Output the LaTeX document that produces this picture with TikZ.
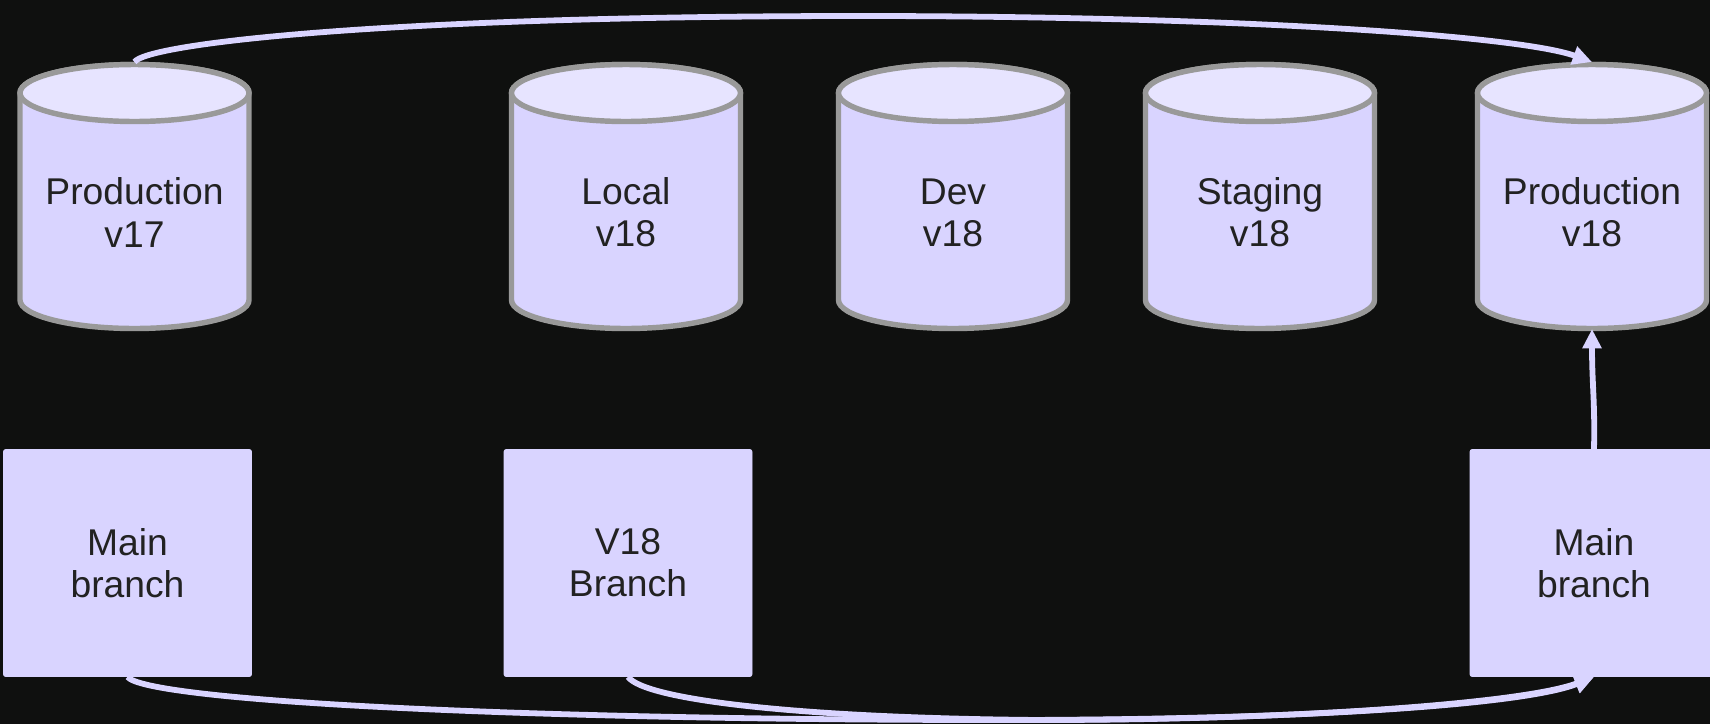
\documentclass[tikz,border=0pt]{standalone}
\usepackage{fontspec}
\setmainfont{Liberation Sans}
\usepackage{tikz}
\usetikzlibrary{arrows.meta}
\definecolor{bgdark}{HTML}{0F100F}
\definecolor{boxfill}{HTML}{D9D4FF}
\definecolor{capfill}{HTML}{E7E4FF}
\definecolor{rimgray}{HTML}{999999}
\definecolor{inkdark}{HTML}{222222}
\tikzset{
  rim/.style={draw=rimgray, line width=3.1pt},
  label/.style={text=inkdark, align=center, inner sep=0pt, font=\fontsize{21.2}{24}\selectfont},
  branchnode/.style={label, rectangle, rounded corners=1.2pt, fill=boxfill, draw=boxfill, line width=0.4pt,
    minimum width=248*0.02cm, minimum height=227*0.02cm},
  flow/.style={draw=boxfill, line width=3.3pt, -{Triangle[length=11pt,width=10.4pt]}},
  dbcyl/.pic={
    \draw[rim, fill=boxfill] (-114.5,93) -- (-114.5,300) arc[start angle=180, end angle=0, x radius=114.5, y radius=28.5]
      -- (114.5,93) arc[start angle=360, end angle=180, x radius=114.5, y radius=28.5] -- cycle;
    \draw[rim, fill=capfill] (0,93) ellipse[x radius=114.5, y radius=28.5];
    \node[label] (-label) at (0,212.5) {#1};
    \coordinate (-top) at (0,62);
    \coordinate (-bot) at (0,329);
  }
}
\begin{document}
\begin{tikzpicture}[x=0.02cm,y=-0.02cm]
  \useasboundingbox[fill=bgdark] (0,0) rectangle (1710,724);
  % Databases
  \pic (prodold) at (134.5,0) {dbcyl={Production\\v17}};
  \pic (local) at (626,0) {dbcyl={Local\\v18}};
  \pic (dev) at (953,0) {dbcyl={Dev\\v18}};
  \pic (staging) at (1260,0) {dbcyl={Staging\\v18}};
  \pic (prodnew) at (1592,0) {dbcyl={Production\\v18}};

  % Branches
  \node[branchnode] (mainold) at (127.5,563) {Main\\branch};
  \node[branchnode] (vbranch) at (628,563) {V18\\Branch};
  \node[branchnode] (mainnew) at (1594,563) {Main\\branch};

  % Promotion paths
  \draw[flow] (prodold-top) .. controls (146,44) and (380,16) .. (860,16)
    .. controls (1240,16) and (1520,36) .. (prodnew-top);
  \draw[flow] (mainnew.north) .. controls (1595,400) and (1592,385) .. (prodnew-bot);
  \draw[flow] (mainold.south) .. controls (145,700) and (500,720) .. (1000,720)
    .. controls (1300,720) and (1525,705) .. (mainnew.south);
  \draw[flow] (vbranch.south) .. controls (645,700) and (800,718) .. (1040,720)
    .. controls (1300,720) and (1525,703) .. (mainnew.south);
\end{tikzpicture}
\end{document}
